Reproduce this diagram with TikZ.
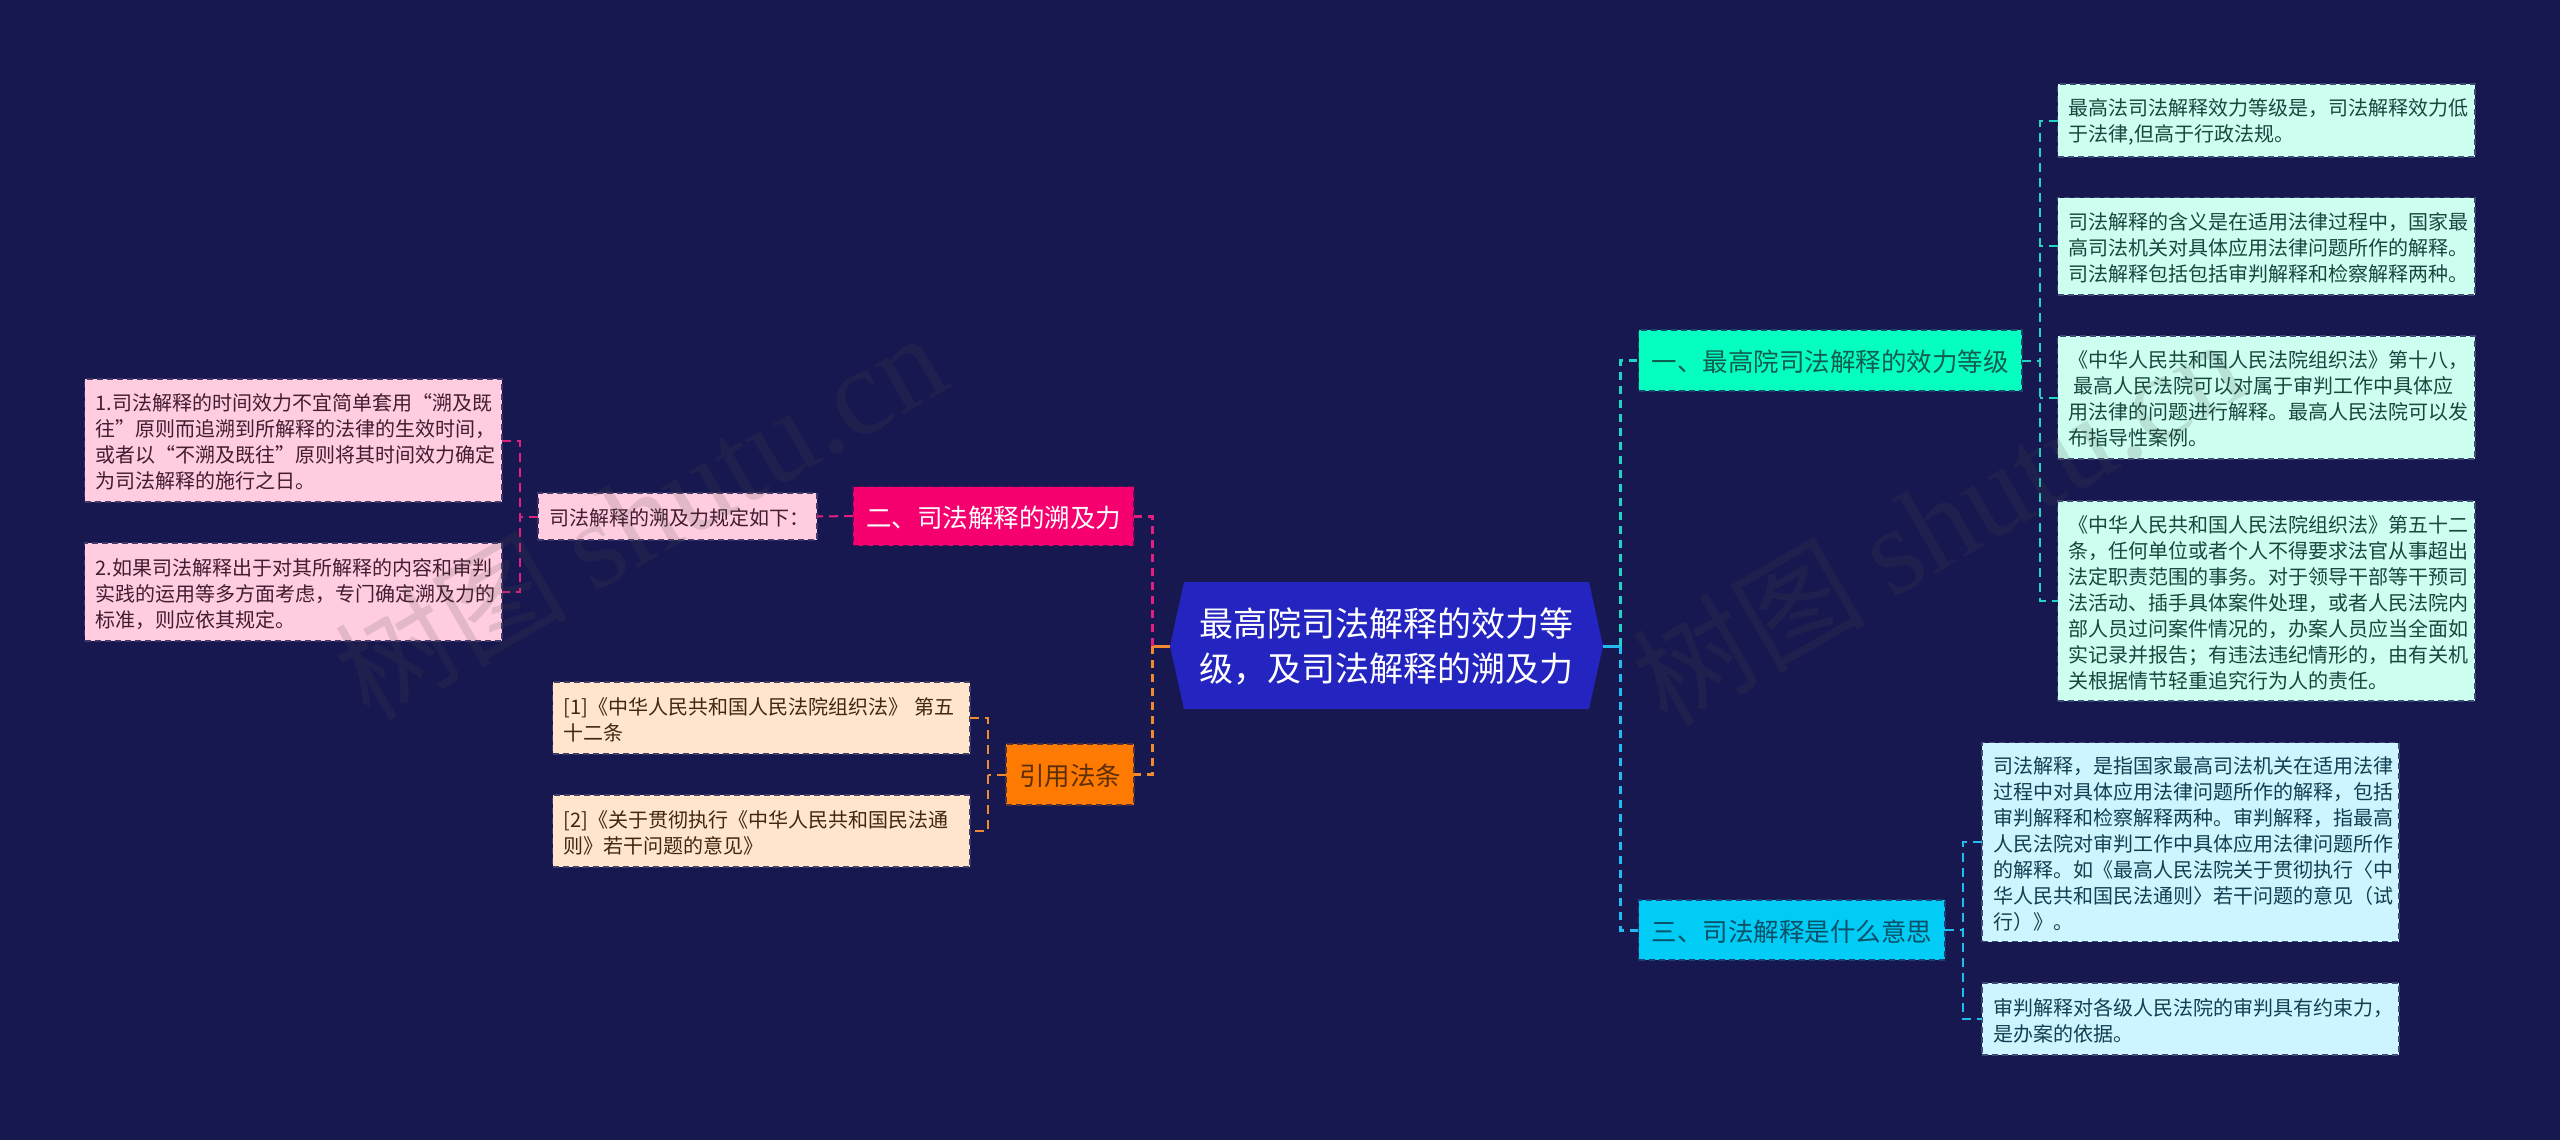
\documentclass[tikz,border=0pt]{standalone}
\usepackage{fontspec}
\setmainfont{Noto Sans CJK SC}
\newfontfamily\wmlatin{Liberation Serif}
\definecolor{bgc}{HTML}{181850}
\definecolor{rootc}{HTML}{2424C0}
\definecolor{tealc}{HTML}{1FD6C4}
\definecolor{cyanc}{HTML}{22BCEE}
\definecolor{pinkc}{HTML}{E0207F}
\definecolor{orangec}{HTML}{F08A30}
\definecolor{leafA}{HTML}{CCFFF0}\definecolor{leafAt}{HTML}{174840}
\definecolor{leafC}{HTML}{CCF5FF}\definecolor{leafCt}{HTML}{143E50}
\definecolor{leafP}{HTML}{FFCCE0}\definecolor{leafPt}{HTML}{421C30}
\definecolor{leafO}{HTML}{FFE5CC}\definecolor{leafOt}{HTML}{402810}
\definecolor{bOne}{HTML}{05FFC0}\definecolor{bOneT}{HTML}{0F5F50}
\definecolor{bThree}{HTML}{00CCF5}\definecolor{bThreeT}{HTML}{0A5068}
\definecolor{bTwo}{HTML}{F5006E}
\definecolor{bFour}{HTML}{FF7A00}\definecolor{bFourT}{HTML}{5A2E08}
\tikzset{
  anybox/.style={draw, dashed, dash pattern=on 3pt off 2pt, line width=0.75pt, inner sep=0pt, outer sep=0pt, rectangle},
  leaftext/.style={font=\fontsize{10pt}{13pt}\selectfont, align=left},
  leafteal/.style={anybox, leaftext, fill=leafA, draw=leafA!22!bgc, text=leafAt},
  leafcyan/.style={anybox, leaftext, fill=leafC, draw=leafC!22!bgc, text=leafCt},
  leafpink/.style={anybox, leaftext, fill=leafP, draw=leafP!18!bgc, text=leafPt},
  leaforange/.style={anybox, leaftext, fill=leafO, draw=leafO!18!bgc, text=leafOt},
  branchbox/.style={anybox, font=\fontsize{12.75pt}{16pt}\selectfont, align=center},
  mainline/.style={line width=1.5pt, dash pattern=on 4pt off 3pt},
  thinline/.style={line width=1pt, dash pattern=on 4.5pt off 3pt},
  stub/.style={line width=1.5pt},
  watermark/.style={rotate=30, text=black!70!white, text opacity=0.16, font=\fontsize{58pt}{60pt}\selectfont}
}
\newcommand{\boxnode}[7]{%
  \pgfmathsetmacro{\cxv}{(#3+#5)/2}%
  \pgfmathsetmacro{\cyv}{(#4+#6)/2}%
  \pgfmathsetmacro{\wv}{(#5-#3)*0.5}%
  \pgfmathsetmacro{\hv}{(#6-#4)*0.5}%
  \pgfmathsetmacro{\tv}{(#5-#3-22)*0.5}%
  \node[#2, minimum width=\wv pt, minimum height=\hv pt, text width=\tv pt] (#1) at (\cxv,\cyv) {\raisebox{-0.8pt}[\height][\depth]{\parbox[c]{\tv pt}{\raggedright #7}}};%
}
\begin{document}
\begin{tikzpicture}[x=0.5pt,y=-0.5pt]
\useasboundingbox (0,0) rectangle (2560,1140);
\fill[bgc] (0,0) rectangle (2560,1140);

\coordinate (spR) at (1620,0);
\coordinate (spL) at (1152,0);
\coordinate (spA) at (2040,0);
\coordinate (spC) at (1963,0);
\coordinate (spM) at (520,0);
\coordinate (spO) at (988,0);

% root
\fill[rootc] (1170,646) -- (1184,582) -- (1589,582) -- (1603,646) -- (1589,709) -- (1184,709) -- cycle;
\node[inner sep=0pt, outer sep=0pt, minimum width=216.5pt, minimum height=63.5pt, text width=187pt, align=left, text=white, font=\fontsize{17pt}{22.5pt}\selectfont] (root) at (1386.5,646) {最高院司法解释的效力等\\级，及司法解释的溯及力};

% branches
\boxnode{bone}{branchbox, fill=bOne, draw=tealc!25!bgc, text=bOneT}{1638.5}{330}{2022}{391}{\centering 一、最高院司法解释的效力等级}
\boxnode{bthree}{branchbox, fill=bThree, draw=cyanc!25!bgc, text=bThreeT}{1638.5}{900}{1945}{960}{\centering 三、司法解释是什么意思}
\boxnode{btwo}{branchbox, fill=bTwo, draw=bTwo!25!bgc, text=white}{853}{486.5}{1134}{545.5}{\centering 二、司法解释的溯及力}
\boxnode{bfour}{branchbox, fill=bFour, draw=bFour!25!bgc, text=bFourT}{1006}{744}{1134}{805}{\centering 引用法条}

% leaves right
\boxnode{aone}{leafteal}{2057.5}{84}{2475}{157}{最高法司法解释效力等级是，司法解释效力低\\于法律,但高于行政法规。}
\boxnode{atwo}{leafteal}{2057.5}{197.5}{2475}{295}{司法解释的含义是在适用法律过程中，国家最\\高司法机关对具体应用法律问题所作的解释。\\司法解释包括包括审判解释和检察解释两种。}
\boxnode{athree}{leafteal}{2057.5}{336}{2475}{459}{《中华人民共和国人民法院组织法》第十八，\\\hspace*{.25em}最高人民法院可以对属于审判工作中具体应\\用法律的问题进行解释。最高人民法院可以发\\布指导性案例。}
\boxnode{afour}{leafteal}{2057.5}{501}{2475}{701}{《中华人民共和国人民法院组织法》第五十二\\条，任何单位或者个人不得要求法官从事超出\\法定职责范围的事务。对于领导干部等干预司\\法活动、插手具体案件处理，或者人民法院内\\部人员过问案件情况的，办案人员应当全面如\\实记录并报告；有违法违纪情形的，由有关机\\关根据情节轻重追究行为人的责任。}
\boxnode{cone}{leafcyan}{1982}{742.5}{2399}{941.5}{司法解释，是指国家最高司法机关在适用法律\\过程中对具体应用法律问题所作的解释，包括\\审判解释和检察解释两种。审判解释，指最高\\人民法院对审判工作中具体应用法律问题所作\\的解释。如《最高人民法院关于贯彻执行〈中\\华人民共和国民法通则〉若干问题的意见（试\\行）》。}
\boxnode{ctwo}{leafcyan}{1982}{983}{2399}{1055}{审判解释对各级人民法院的审判具有约束力，\\是办案的依据。}

% leaves left
\boxnode{lone}{leafpink}{84.5}{379}{502}{502}{1.司法解释的时间效力不宜简单套用“溯及既\\往”原则而追溯到所解释的法律的生效时间，\\或者以“不溯及既往”原则将其时间效力确定\\为司法解释的施行之日。}
\boxnode{ltwo}{leafpink}{84.5}{543}{502}{641}{2.如果司法解释出于对其所解释的内容和审判\\实践的运用等多方面考虑，专门确定溯及力的\\标准，则应依其规定。}
\boxnode{lmid}{leafpink}{538}{493}{817}{540}{司法解释的溯及力规定如下：}
\boxnode{rone}{leaforange}{552.5}{682}{970}{754}{[1]《中华人民共和国人民法院组织法》 第五\\十二条}
\boxnode{rtwo}{leaforange}{552.5}{795}{970}{867}{[2]《关于贯彻执行《中华人民共和国民法通\\则》若干问题的意见》}

% main connectors
\draw[stub, cyanc] (root.east) -- (root.east -| spR);
\draw[stub, orangec] (root.west) -- (root.west -| spL);
\draw[mainline, tealc] (root.east -| spR) -- (spR |- bone.west) -- (bone.west);
\draw[mainline, cyanc] (root.east -| spR) -- (spR |- bthree.west) -- (bthree.west);
\draw[mainline, pinkc] (root.west -| spL) -- (spL |- btwo.east) -- (btwo.east);
\draw[mainline, orangec] (root.west -| spL) -- (spL |- bfour.east) -- (bfour.east);

% second level
\draw[thinline, tealc] (aone.west) -- (aone.west -| spA) -- (afour.west -| spA) -- (afour.west);
\draw[thinline, tealc] (atwo.west) -- (atwo.west -| spA);
\draw[thinline, tealc] (athree.west) -- (athree.west -| spA);
\draw[thinline, tealc] (bone.east) -- (bone.east -| spA);
\draw[thinline, cyanc] (cone.west) -- (cone.west -| spC) -- (ctwo.west -| spC) -- (ctwo.west);
\draw[thinline, cyanc] (bthree.east) -- (bthree.east -| spC);
\draw[thinline, pinkc] (btwo.west) -- (lmid.east);
\draw[thinline, pinkc] (lone.east) -- (lone.east -| spM) -- (ltwo.east -| spM) -- (ltwo.east);
\draw[thinline, pinkc] (lmid.west) -- (lmid.west -| spM);
\draw[thinline, orangec] (rone.east) -- (rone.east -| spO) -- (rtwo.east -| spO) -- (rtwo.east);
\draw[thinline, orangec] (bfour.west) -- (bfour.west -| spO);

% watermarks
\node[watermark] (wmleft) at (640,516) {树图 {\wmlatin\fontsize{62pt}{60pt}\selectfont shutu.cn}};
\node[watermark] (wmright) at (1938,522) {树图 {\wmlatin\fontsize{62pt}{60pt}\selectfont shutu.cn}};
\end{tikzpicture}
\end{document}
